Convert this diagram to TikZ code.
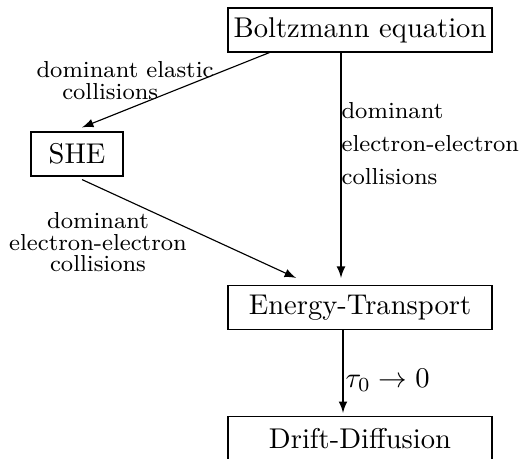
\documentclass[tikz,border=0pt]{standalone}
\usetikzlibrary{arrows,calc}

\begin{document}
\begin{tikzpicture}[x=0.35pt, y=-0.35pt,
    caixa/.style={draw, minimum width=92.4pt, minimum height=15.4pt, inner sep=0pt},
    rotulo/.style={inner sep=0pt, font=\fontsize{8.1}{7.5}\selectfont},
    seta/.style={-latex}]
    \useasboundingbox (0,0) rectangle (519,458);

    % Caixas
    \node[caixa] (boltz) at (360,30) {Boltzmann equation};
    \node[caixa, minimum width=32.2pt] (she) at (77,154) {SHE};
    \node[caixa] (et) at (360,307.5) {Energy-Transport};
    \node[caixa] (dd) at (360,438.5) {Drift-Diffusion};

    % Setas
    \draw[seta] (boltz.194) -- ($(she.north)+(5,-4)$);
    \draw[seta] ($(boltz.south)+(-19,0)$) -- ($(et.north)+(-19,-7)$);
    \draw[seta] ($(she.south)+(5,3)$) -- ($(et.north)+(-64,-7)$);
    \draw[seta] ($(et.south)+(-17,0)$) -- ($(dd.north)+(-17,-3)$);

    % Rotulos
    \node[rotulo, align=left, anchor=north west] (elast) at (36,61)
        {dominant elastic\\\hspace*{9pt}collisions};
    \node[rotulo, align=left, anchor=north west,
        font=\fontsize{8.1}{11.6}\selectfont] (ee1) at (341,102)
        {dominant\\electron-electron\\collisions};
    \node[rotulo, align=center, anchor=north] (ee2) at (98,212)
        {dominant\\electron-electron\\collisions};
    \node[inner sep=0pt, anchor=base west] (tau) at (345,387) {$\tau_0 \to 0$};
\end{tikzpicture}
\end{document}
